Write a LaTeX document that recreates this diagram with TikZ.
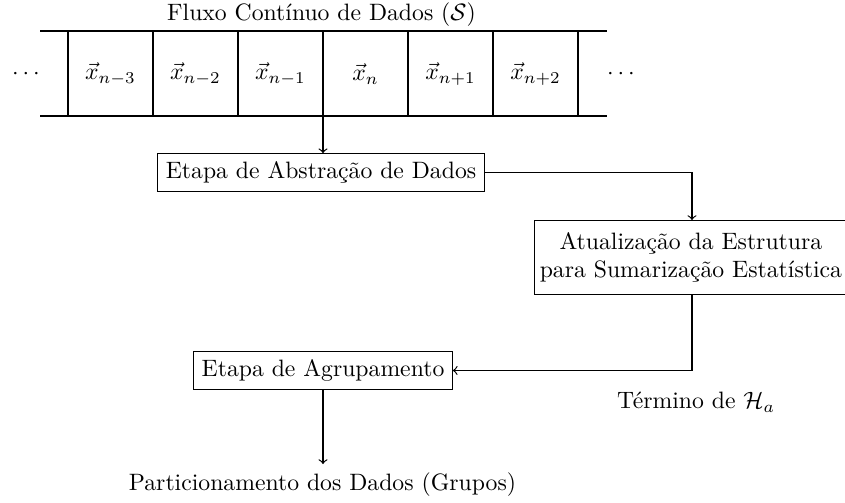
\documentclass[tikz,border=0pt]{standalone}
\usepackage{fontspec}
\usetikzlibrary{calc}
\begin{document}
\begin{tikzpicture}[x=0.4219pt,y=-0.4219pt,
  every path/.style={line width=0.5pt},
  box/.style={draw, inner sep=3.33pt},
  lbl/.style={inner sep=0pt}]
\useasboundingbox (0,0) rectangle (845,502);
\node[lbl] (title) at (321.5,15) {Fluxo Contínuo de Dados ($\mathcal{S}$)};
\draw (40,31) -- (607,31);
\draw (40,116) -- (607,116);
\foreach \xx in {68,153,238,323,408,493,578} \draw (\xx,31) -- (\xx,116);
\node[lbl] (dl) at (26,74) {$\cdots$};
\node[lbl] (c1) at (110.5,74) {$\vec{x}_{n-3}$};
\node[lbl] (c2) at (195.5,74) {$\vec{x}_{n-2}$};
\node[lbl] (c3) at (280.5,74) {$\vec{x}_{n-1}$};
\node[lbl] (c4) at (365.5,74) {$\vec{x}_{n}$};
\node[lbl] (c5) at (450.5,74) {$\vec{x}_{n+1}$};
\node[lbl] (c6) at (535.5,74) {$\vec{x}_{n+2}$};
\node[lbl] (dr) at (621,74) {$\cdots$};
\coordinate (s) at (323,116);
\coordinate (col) at (692,0);
\node[box] (abs) at (321,172.5) {Etapa de Abstração de Dados};
\draw[->] (s) -- (s |- abs.north);
\node[box, align=center, inner xsep=2.2pt, inner ysep=5pt, anchor=west] (upd) at (534,257.5) {Atualização da Estrutura\\para Sumarização Estatística};
\draw[->] (abs.east) -| (col |- upd.north);
\node[box] (agr) at (323,370.5) {Etapa de Agrupamento};
\draw[->] (col |- upd.south) |- (agr.east);
\node[lbl] (term) at (696,402) {Término de $\mathcal{H}_a$};
\node[lbl, anchor=north] (part) at (322.5,472) {Particionamento dos Dados (Grupos)};
\draw[->] (agr.south) -- (agr.south |- 0,464);
\end{tikzpicture}
\end{document}
